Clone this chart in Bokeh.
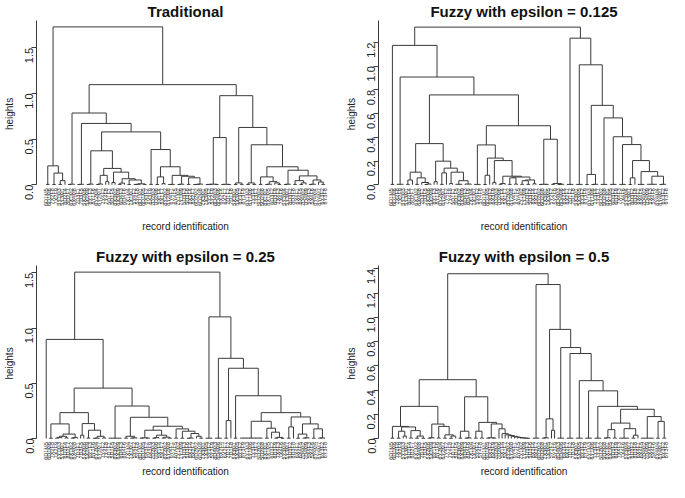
from math import pi
from bokeh.plotting import figure
from bokeh.layouts import gridplot
from bokeh.models import Range1d, FixedTicker, PrintfTickFormatter, ColumnDataSource
from bokeh.core.properties import value
from bokeh.embed import file_html
from bokeh.resources import INLINE

FONT = "Liberation Sans"

# ---------------- data ----------------
TITLES = ["Traditional", "Fuzzy with epsilon = 0.125",
          "Fuzzy with epsilon = 0.25", "Fuzzy with epsilon = 0.5"]
X_LABEL = "record identification"
Y_LABEL = "heights"

Y_TOPS = [1.80, 1.386, 1.566, 1.427]
Y_TICKS = [
    [0.0, 0.5, 1.0, 1.5],
    [0.0, 0.2, 0.4, 0.6, 0.8, 1.0, 1.2],
    [0.0, 0.5, 1.0, 1.5],
    [0.0, 0.2, 0.4, 0.6, 0.8, 1.0, 1.2, 1.4],
]

RECORD_IDS = [
    "6D1M5", "6D1M6", "7X2F8", "7X2F9", "5Y1M3", "5Y3M1", "8D2F4", "8D2F7", "6X1M2", "6X4M8",
    "7D3F1", "7D3F5", "5X2M6", "5X2M9", "8Y1F3", "8Y1F6", "6Y2M4", "6Y2M7", "7Y4F2", "7Y4F8",
    "5D1F1", "5D1F5", "8X3M2", "8X3M9", "6D4F3", "6D4F6", "7X1M4", "7X1M7", "5Y4F2", "5Y4F8",
    "8D1M1", "8D1M5", "6X3F2", "6X3F9", "7D2M3", "7D2M6", "5X1F4", "5X1F7", "8Y2M2", "8Y2M8",
    "6Y4F1", "6Y4F5", "7Y1M2", "7Y1M9", "5D3F3", "5D3F6", "8X2F4", "8X2F7", "6D2M2", "6D2M8",
    "7X3M1", "7X3M5", "5Y2F2", "5Y2F9", "8D4M3", "8D4M6", "6X2F4", "6X2F7", "7D1F2", "7D1F8",
    "5X3M1", "5X3M5", "8Y3F2", "8Y3F9", "6Y1M3", "6Y1M6", "7Y3F4", "7Y3F7", "5D2M2", "5D2M8",
    "8X1M1", "8X1M5", "6D3F2", "6D3F9", "7X4F3", "7X4F6", "5Y3M4", "5Y3M7", "8D3F2", "8D3F8",
    "6X4F1", "6X4F5", "7D4M2", "7D4M9", "5X4F3", "5X4F6", "8Y4M4", "8Y4M7", "6Y3F2", "6Y3F8",
]

# Merge trees: "o" = record (leaf), "(a,b)h" = merge of a and b at height h
TREE_TRADITIONAL = (
    "("
    "((o,o)0.004,((o,o)0.003,((o,o)0.004,o)0.045)0.128)0.207,"
    "("
    "("
    "((o,o)0.003,o)0.006,"
    "("
    "((o,o)0.002,o)0.005,"
    "("
    "("
    "((o,o)0.003,o)0.007,"
    "("
    "(((o,o)0.003,o)0.008,(o,o)0.034)0.103,"
    "((o,o)0.025,(((o,o)0.004,o)0.018,((o,o)0.003,(((o,o)0.002,o)0.005,(o,o)0.003)0.01)0.052)0.066)0.138"
    ")0.179"
    ")0.372,"
    "("
    "(o,o)0.004,"
    "(((o,o)0.003,(o,o)0.012)0.086,(((o,o)0.002,o)0.004,(((o,o)0.003,o)0.006,((o,o)0.004,(((o,o)0.002,o)0.004,o)0.007)0.076)0.093)0.103)0.197"
    ")0.386"
    ")0.579"
    ")0.672"
    ")0.786,"
    "("
    "((((o,o)0.002,o)0.004,(o,o)0.003)0.006,((o,o)0.003,(o,o)0.002)0.005)0.517,"
    "("
    "((o,o)0.003,(o,o)0.004)0.02,"
    "("
    "((o,o)0.003,(o,o)0.004)0.02,"
    "("
    "((o,o)0.004,(((o,o)0.003,o)0.006,(o,(o,o)0.004)0.02)0.034)0.086,"
    "(((o,o)0.003,o)0.006,(((o,o)0.004,((o,o)0.003,o)0.02)0.045,(((o,o)0.003,o)0.006,(o,(o,o)0.004)0.03)0.052)0.097)0.159"
    ")0.197"
    ")0.438"
    ")0.628"
    ")0.976"
    ")1.097"
    ")1.73"
)

TREE_EPS_0125 = (
    "("
    "("
    "(o,o)0.003,"
    "("
    "(o,o,o)0.004,"
    "("
    "("
    "(((o,o)0.003,o)0.04,((o,o)0.003,(o,((o,o)0.002,o)0.006)0.019)0.058)0.106,"
    "((o,o)0.026,(((o,o)0.003,o)0.1,((o,o)0.01,((o,o,o)0.004,(o,o,o)0.006)0.034)0.106)0.14)0.199"
    ")0.347,"
    "("
    "("
    "(o,o,o)0.003,"
    "(((o,o)0.002,o)0.08,((o,o)0.02,(((o,o)0.004,o)0.01,(((o,o)0.003,(o,o)0.006)0.058,(((o,o)0.004,(o,o)0.003)0.034,(o,o)0.008)0.04)0.065)0.072)0.204)0.225"
    ")0.336,"
    "(((o,o)0.002,(o,o)0.003)0.004,((o,o)0.003,((o,o)0.002,o)0.004)0.01)0.384"
    ")0.498"
    ")0.758"
    ")0.909"
    ")1.176,"
    "("
    "(o,o,o)0.003,"
    "("
    "(o,o,o)0.003,"
    "("
    "((o,o)0.002,((o,o)0.002,o)0.004)0.087,"
    "("
    "(o,o,o)0.003,"
    "("
    "(o,o,o)0.003,"
    "("
    "(o,o,o)0.003,"
    "(((o,o)0.002,o)0.058,((o,o,o)0.003,((o,o,o,o)0.004,((o,o)0.002,o)0.004)0.072)0.111)0.204"
    ")0.339"
    ")0.405"
    ")0.564"
    ")0.67"
    ")1.012"
    ")1.237"
    ")1.33"
)

TREE_EPS_025 = (
    "("
    "("
    "o,"
    "("
    "("
    "((o,o)0.003,((((o,o)0.004,o)0.01,(o,o)0.006)0.02,((o,o)0.003,o)0.008)0.04)0.132,"
    "((o,o)0.03,((o,o)0.004,(((o,o)0.002,o)0.003,(o,o)0.005)0.02)0.075)0.135"
    ")0.234,"
    "("
    "(o,o,o,o,o)0.003,"
    "("
    "((o,o)0.003,((o,o)0.004,o)0.006)0.02,"
    "("
    "(((o,o)0.003,(o,o)0.004)0.006,(((o,o)0.003,o)0.008,((o,o)0.004,(o,o)0.003)0.012)0.03)0.075,"
    "((o,o)0.004,((o,o)0.003,(((o,o)0.002,o)0.004,(o,(o,o)0.003)0.02)0.045)0.066)0.087"
    ")0.111"
    ")0.192"
    ")0.294"
    ")0.456"
    ")0.897,"
    "("
    "(o,o,o)0.003,"
    "("
    "(o,o,o)0.003,"
    "("
    "((o,o)0.003,o)0.162,"
    "("
    "(o,o)0.003,"
    "("
    "((o,o,o,o,o,o,o,o)0.004,((o,o)0.003,(o,((o,o)0.003,(o,o)0.002)0.01)0.057)0.093)0.156,"
    "(((o,o)0.003,o)0.105,(((o,o)0.003,((o,o)0.004,o)0.006)0.04,((o,o)0.003,((o,o)0.004,o)0.005)0.087)0.132)0.195"
    ")0.234"
    ")0.387"
    ")0.636"
    ")0.726"
    ")1.101"
    ")1.506"
)

TREE_EPS_05 = (
    "("
    "("
    "("
    "((o,o)0.003,(((o,o)0.003,(o,o)0.02)0.06,((o,o)0.004,((o,o)0.003,(o,o)0.002)0.02)0.065)0.095)0.1,"
    "(((o,o)0.003,o)0.006,((o,o)0.004,((o,o)0.003,((o,o)0.002,o)0.02)0.03)0.1)0.119"
    ")0.265,"
    "("
    "((o,o)0.003,((o,o)0.003,o)0.005)0.06,"
    "(((o,o)0.003,(o,o)0.004)0.06,(((o,o)0.003,(o,o)0.004)0.006,(o,(o,(o,(o,(o,(o,(o,(o,(o,(o,o)0.002)0.003)0.005)0.008)0.012)0.018)0.024)0.03)0.04)0.08)0.12)0.133"
    ")0.344"
    ")0.485,"
    "("
    "(o,o,o)0.003,"
    "("
    "(((o,o)0.003,o)0.006,(o,o)0.068)0.162,"
    "("
    "(o,o,o)0.003,"
    "("
    "(o,o,o)0.003,"
    "("
    "(o,o,o)0.003,"
    "("
    "(o,o,o)0.003,"
    "("
    "(o,o,o)0.003,"
    "("
    "((((o,o)0.003,o)0.006,(o,o)0.004)0.073,((o,o,o,o)0.003,((o,o)0.003,o)0.027)0.081)0.127,"
    "((o,o,o,o,o)0.003,((o,o)0.003,(o,o)0.004)0.141)0.181"
    ")0.241"
    ")0.265"
    ")0.393"
    ")0.477"
    ")0.701"
    ")0.75"
    ")0.9"
    ")1.27"
    ")1.359"
)

TREES = [TREE_TRADITIONAL, TREE_EPS_0125, TREE_EPS_025, TREE_EPS_05]


# ---------------- helpers ----------------
def parse_tree(s):
    s = "".join(s.split())
    pos = 0

    def node():
        nonlocal pos
        if s[pos] == "o":
            pos += 1
            return None
        pos += 1  # "("
        kids = [node()]
        while s[pos] == ",":
            pos += 1
            kids.append(node())
        pos += 1  # ")"
        start = pos
        while pos < len(s) and (s[pos].isdigit() or s[pos] == "."):
            pos += 1
        return (float(s[start:pos]), kids)

    return node()


def dendro_segments(tree):
    x0, y0, x1, y1 = [], [], [], []
    counter = [0]

    def walk(n):
        if n is None:
            x = counter[0]
            counter[0] += 1
            return float(x), 0.0
        h, kids = n
        pts = [walk(k) for k in kids]
        for kx, kh in pts:
            x0.append(kx); y0.append(kh); x1.append(kx); y1.append(h)
        x0.append(pts[0][0]); y0.append(h); x1.append(pts[-1][0]); y1.append(h)
        return (pts[0][0] + pts[-1][0]) / 2.0, h

    walk(tree)
    return dict(x0=x0, y0=y0, x1=x1, y1=y1), counter[0]


def make_panel(idx, width, height, left_border, frame_top, zero_px, frame_bottom,
               pad_l, pad_r, xlab_standoff):
    data, n = dendro_segments(parse_tree(TREES[idx]))
    top = Y_TOPS[idx]
    ppu = (zero_px - frame_top) / top          # pixels per height unit
    y_start = -(frame_bottom - zero_px) / ppu
    p = figure(width=width, height=height, output_backend="svg", toolbar_location=None,
               x_range=Range1d(-pad_l, n - 1 + pad_r), y_range=Range1d(y_start, top),
               min_border_left=left_border, min_border_right=0,
               min_border_top=frame_top, min_border_bottom=height - frame_bottom,
               background_fill_color="white", border_fill_color="white")
    p.outline_line_color = None
    p.grid.visible = False

    p.segment(x0="x0", y0="y0", x1="x1", y1="y1", source=ColumnDataSource(data),
              line_color="#3a3a3a", line_width=1)

    # leaf labels hanging below the leaves
    lab = ColumnDataSource(dict(x=list(range(n)), y=[-3.5 / ppu] * n,
                                t=[RECORD_IDS[i % len(RECORD_IDS)] for i in range(n)]))
    p.text(x="x", y="y", text="t", source=lab, angle=pi / 2,
           text_align="right", text_baseline="middle",
           text_font=value(FONT), text_font_size="5.5px", text_color="#333333")

    # title
    p.title.text = TITLES[idx]
    p.title.align = "center"
    p.title.text_font = FONT
    p.title.text_font_size = "15px"
    p.title.text_font_style = "bold"
    p.title.text_color = "#111111"
    p.title.standoff = 1

    # y axis
    ya = p.yaxis[0]
    ya.ticker = FixedTicker(ticks=Y_TICKS[idx])
    ya.formatter = PrintfTickFormatter(format="%.1f")
    ya.bounds = (0, top)
    ya.major_label_orientation = pi / 2
    ya.major_label_text_font = FONT
    ya.major_label_text_font_size = "11px"
    ya.major_label_text_color = "#222222"
    ya.major_label_standoff = 2
    ya.major_tick_out = 5
    ya.major_tick_in = 0
    ya.minor_tick_line_color = None
    ya.axis_line_color = "#3a3a3a"
    ya.major_tick_line_color = "#3a3a3a"
    ya.axis_label = Y_LABEL
    ya.axis_label_text_font = FONT
    ya.axis_label_text_font_size = "10px"
    ya.axis_label_text_font_style = "normal"
    ya.axis_label_text_color = "#222222"
    ya.axis_label_standoff = 4

    # x axis: only its title is shown
    xa = p.xaxis[0]
    xa.ticker = FixedTicker(ticks=[])
    xa.axis_line_color = None
    xa.major_tick_line_color = None
    xa.minor_tick_line_color = None
    xa.major_tick_out = 0
    xa.major_tick_in = 0
    xa.major_label_standoff = 0
    xa.major_label_text_font_size = "0px"
    xa.axis_label = X_LABEL
    xa.axis_label_text_font = FONT
    xa.axis_label_text_font_size = "10px"
    xa.axis_label_text_font_style = "normal"
    xa.axis_label_text_color = "#222222"
    xa.axis_label_text_line_height = 0.5
    xa.axis_label_standoff = xlab_standoff
    return p


# top row: height 237, bottom row: height 245
p1 = make_panel(0, 334, 237, 0, 18, 184, 207, 3.1, 3.1, 13)
p2 = make_panel(1, 335, 237, 44, 18, 184, 207, 4.0, 1.2, 13)
p3 = make_panel(2, 334, 245, 0, 28, 201, 224, 3.1, 3.1, 4)
p4 = make_panel(3, 335, 245, 44, 28, 201, 224, 4.0, 1.2, 4)

grid = gridplot([[p1, p2], [p3, p4]], toolbar_location=None)

open("out.html", "w").write(file_html(grid, INLINE))
